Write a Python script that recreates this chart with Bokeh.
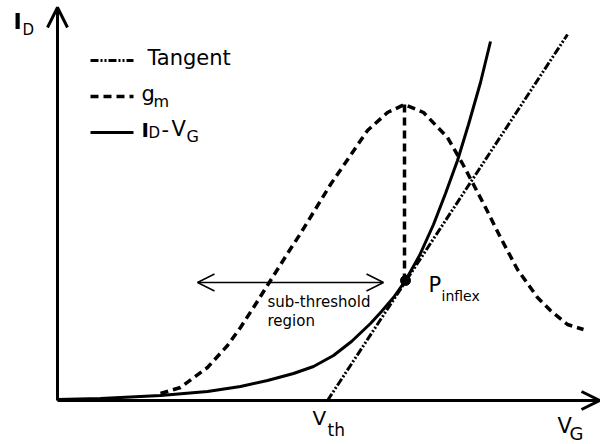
from bokeh.plotting import figure
from bokeh.models import Range1d, Arrow, OpenHead
from bokeh.core.properties import value
from bokeh.embed import file_html
from bokeh.resources import INLINE

# Transfer characteristic I_D - V_G (arbitrary units, origin at the axes corner)
vg_id = [0, 43, 103, 150, 183, 210, 236, 256, 276, 294, 313, 324, 336, 348,
         362, 376, 388, 400, 411, 423, 433]
id_vals = [1, 2, 5, 9, 14, 20, 27, 34, 45, 59, 77, 89, 103, 120,
           145, 176, 207, 240, 276, 318, 359]

# Transconductance g_m (same units)
vg_gm = [103, 123, 150, 170, 183, 196, 213, 230, 243, 273, 310, 330, 347,
         366, 390, 406, 416, 428, 443, 460, 480, 493, 510, 526]
gm_vals = [7, 13, 33, 55, 73, 93, 120, 147, 167, 216, 270, 288, 296,
           288, 263, 235, 216, 193, 163, 131, 103, 90, 76, 71]

# Tangent through the inflection point, from V_th upward
tangent_vg = [270, 510]
tangent_id = [0, 366]

# Inflection point and g_m maximum
inflex_vg = 348
inflex_id = 120
gm_peak_vg = 347
gm_peak = 296

# Sub-threshold region marker
sub_start = 140
sub_end = 326
sub_level = 118

# Axis extents
x_axis_end = 542
y_axis_end = 393

FONT = value("DejaVu Sans")

p = figure(width=600, height=444, output_backend="svg", toolbar_location=None,
           x_range=Range1d(-57, 543), y_range=Range1d(-44, 400),
           min_border=0, x_axis_type=None, y_axis_type=None)
p.grid.visible = False
p.outline_line_color = None
p.background_fill_color = "white"
p.border_fill_color = "white"

# Axes with arrow heads
p.add_layout(Arrow(end=OpenHead(size=20, line_width=3, line_color="black"),
                   x_start=0, y_start=0, x_end=0, y_end=y_axis_end,
                   line_width=3, line_color="black"))
p.add_layout(Arrow(end=OpenHead(size=18, line_width=3, line_color="black"),
                   x_start=0, y_start=0, x_end=x_axis_end, y_end=0,
                   line_width=3, line_color="black"))

# Curves
p.line(vg_gm, gm_vals, line_color="black", line_width=3.5, line_dash="8 5")
p.line([gm_peak_vg, gm_peak_vg], [gm_peak, inflex_id], line_color="black",
       line_width=3.5, line_dash="8 5")
p.line(tangent_vg, tangent_id, line_color="black", line_width=3,
       line_dash="8 2 2 2 2 2")
p.line(vg_id, id_vals, line_color="black", line_width=3)
p.scatter([inflex_vg], [inflex_id], size=10, color="black")

# Sub-threshold double arrow
p.add_layout(Arrow(start=OpenHead(size=17, line_width=1.5, line_color="black"),
                   end=OpenHead(size=17, line_width=1.5, line_color="black"),
                   x_start=sub_start, y_start=sub_level, x_end=sub_end, y_end=sub_level,
                   line_width=1.5, line_color="black"))

# Legend
p.line([33, 76], [340, 340], line_color="black", line_width=3, line_dash="8 2 2 2 2 2")
p.line([33, 76], [304, 304], line_color="black", line_width=3.5, line_dash="8 5")
p.line([33, 76], [268, 268], line_color="black", line_width=3)


def label(x, baseline, txt, size, bold=False):
    # the text anchor sits a little above the glyph baseline
    p.text(x=[x], y=[baseline + 0.4 * size], text=[txt], text_font=FONT,
           text_font_size=f"{size}px", text_color="black", text_align="left",
           text_baseline="alphabetic",
           text_font_style="bold" if bold else "normal")


label(90, 334, "Tangent", 21)
label(84, 298, "g", 21)
label(96, 293, "m", 16)
label(84, 263, "I", 20, bold=True)
label(91, 262, "D", 15)
label(104, 263, "-", 21)
label(114, 263, "V", 21)
label(129, 258, "G", 16)

# Axis titles
label(-44, 370, "I", 22, bold=True)
label(-35, 365, "D", 15)
label(500, -34, "V", 21)
label(512, -40, "G", 18)
label(255, -25, "V", 20)
label(270, -36, "th", 17)

# Annotations
label(371, 107, "P", 21)
label(384, 99, "inflex", 14)
label(210, 93, "sub-threshold", 15)
label(210, 74, "region", 15)

open("out.html", "w").write(file_html(p, INLINE))
